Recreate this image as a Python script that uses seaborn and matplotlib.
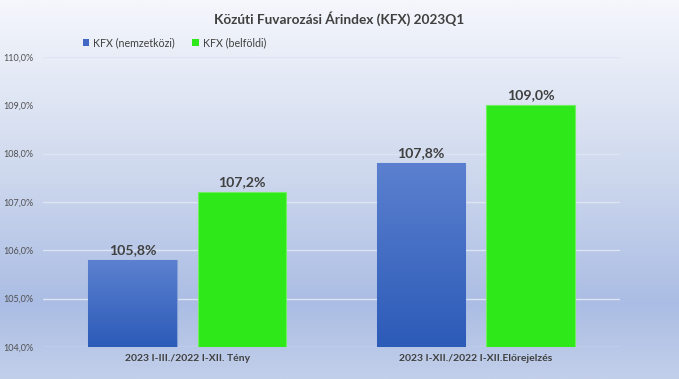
import numpy as np
import pandas as pd
import matplotlib
matplotlib.use("Agg")
import matplotlib.pyplot as plt
import seaborn as sns
from matplotlib.colors import LinearSegmentedColormap

# adatok
categories = ["2023 I-III./2022 I-XII. Tény", "2023 I-XII./2022 I-XII.Előrejelzés"]
series = ["KFX (nemzetközi)", "KFX (belföldi)"]
nemzetkozi = [105.8, 107.8]
belfoldi = [107.2, 109.0]
y_ticks = [104.0, 105.0, 106.0, 107.0, 108.0, 109.0, 110.0]

df = pd.DataFrame({
    "kat": categories * 2,
    "sor": [series[0]] * 2 + [series[1]] * 2,
    "ertek": nemzetkozi + belfoldi,
})

sns.set_theme(style="white")
plt.rcParams["font.family"] = ["Lato", "DejaVu Sans"]

BLUE = "#4068c4"
GREEN = "#2ee81a"
TXT = "#404040"

fig = plt.figure(figsize=(6.79, 3.79), dpi=100)

# háttér színátmenet
bg = fig.add_axes([0, 0, 1, 1], zorder=-1)
bg_cmap = LinearSegmentedColormap.from_list(
    "bg", [(0, "#f5f7fc"), (0.45, "#cfd9ee"), (0.8, "#abbde4"), (1, "#c2cfea")])
bg.imshow(np.linspace(0, 1, 256).reshape(-1, 1), aspect="auto", cmap=bg_cmap,
          extent=[0, 1, 1, 0])
bg.set_axis_off()

ax = fig.add_axes([43 / 679, 1 - 347 / 379, 577 / 679, 290 / 379])
ax.set_facecolor("none")

sns.barplot(data=df, x="kat", y="ertek", hue="sor", hue_order=series,
            palette=[BLUE, GREEN], saturation=1, width=0.76, gap=0.19, ax=ax,
            edgecolor="none", linewidth=0, zorder=3)

ax.set_ylim(104, 110)
ax.set_yticks(y_ticks)
ax.set_yticklabels([f"{t:.1f}%".replace(".", ",") for t in y_ticks],
                   fontsize=6.5, color="#505050")
ax.tick_params(axis="y", length=0, pad=7)
ax.tick_params(axis="x", length=0, pad=5)
for lab in ax.get_xticklabels():
    lab.set_fontsize(7.5)
    lab.set_fontweight("bold")
    lab.set_color(TXT)
ax.set_xlabel("")
ax.set_ylabel("")
ax.grid(axis="y", color="#dde5f3", linewidth=1, zorder=0)
for s in ax.spines.values():
    s.set_visible(False)

# kék oszlopok színátmenete, címkék
blue_cmap = LinearSegmentedColormap.from_list("kek", ["#2c5bb8", "#5b80cf"])
for bar in ax.patches:
    h = bar.get_height()
    if h == 0:
        continue
    x0, w = bar.get_x(), bar.get_width()
    if bar.get_facecolor()[1] < 0.6:
        img = ax.imshow(np.linspace(0, 1, 128).reshape(-1, 1), cmap=blue_cmap,
                        origin="lower", aspect="auto",
                        extent=[x0, x0 + w, 104, h], zorder=4)
        img.set_clip_path(bar)
        bar.set_edgecolor("#86a0d8")
        bar.set_linewidth(0.8)
        bar.set_zorder(4)
    else:
        bar.set_edgecolor("#6ef060")
        bar.set_linewidth(0.8)
    ax.text(x0 + w / 2, h + 0.09, f"{h:.1f}%".replace(".", ","),
            ha="center", va="bottom", fontsize=10.2, fontweight="bold",
            color=TXT, zorder=5)

ax.set_xlim(-0.5, 1.5)
ax.set_ylim(104, 110)

leg = ax.legend(loc="center left", bbox_to_anchor=(0.052, 1 + 14 / 290), ncol=2,
                frameon=False, fontsize=7.7, handlelength=0.6, handleheight=0.6,
                handletextpad=0.4, columnspacing=1.6)
for t in leg.get_texts():
    t.set_color(TXT)

fig.text(0.5, 1 - 19 / 379, "Közúti Fuvarozási Árindex (KFX) 2023Q1",
         ha="center", va="center", fontsize=9.8, fontweight="bold", color=TXT)

fig.savefig("out.png", dpi=100)
